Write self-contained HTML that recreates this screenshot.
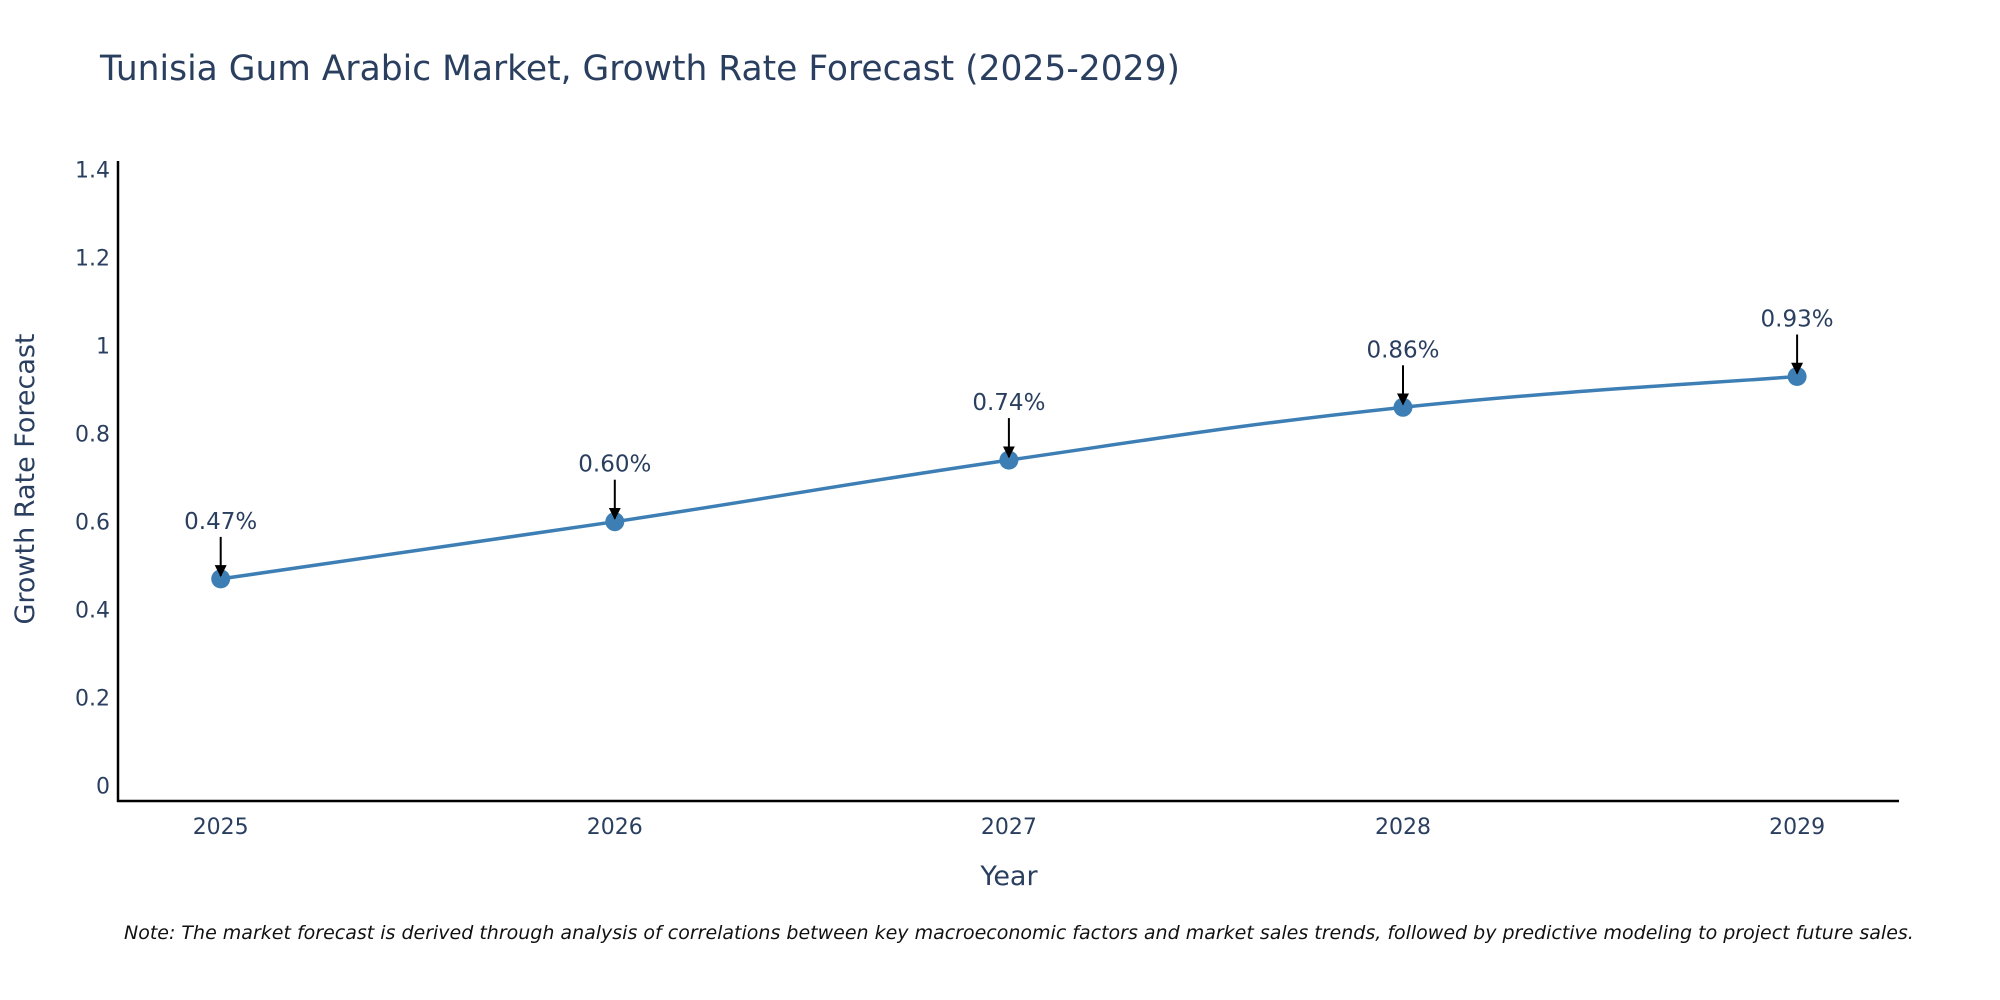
<!DOCTYPE html>
<html><head><meta charset="utf-8"><style>
html,body{margin:0;padding:0;background:#fff;}
svg{display:block;font-family:"DejaVu Sans","Liberation Sans",sans-serif;}
</style></head><body>
<svg id="chart" width="2000" height="1000" viewBox="0 0 2000 1000">
<text x="100" y="80" font-size="35" fill="#2a3f5f" textLength="1080" lengthAdjust="spacingAndGlyphs">Tunisia Gum Arabic Market, Growth Rate Forecast (2025-2029)</text>
<g id="yticks"></g>
<g id="xticks"></g>
<line x1="118" y1="161" x2="118" y2="802" stroke="#000" stroke-width="2.5"/>
<line x1="117" y1="801" x2="1899" y2="801" stroke="#000" stroke-width="2.5"/>
<g id="series"></g>
<g id="annots"></g>
<text x="1009" y="885" font-size="27" fill="#2a3f5f" text-anchor="middle">Year</text>
<text transform="translate(34,479) rotate(-90)" font-size="27" fill="#2a3f5f" text-anchor="middle">Growth Rate Forecast</text>
<text x="124" y="939" font-size="19" font-style="italic" fill="#111">Note: The market forecast is derived through analysis of correlations between key macroeconomic factors and market sales trends, followed by predictive modeling to project future sales.</text>
<defs><marker id="ah" viewBox="0 0 10 10" refX="9" refY="5" markerWidth="6" markerHeight="6" orient="auto"><path d="M0,0 L10,5 L0,10 z" fill="#000"/></marker></defs>
</svg>
<script>
const years = [2025, 2026, 2027, 2028, 2029];
const values = [0.47, 0.60, 0.74, 0.86, 0.93];
const labels = ["0.47%", "0.60%", "0.74%", "0.86%", "0.93%"];
const yTicks = [0, 0.2, 0.4, 0.6, 0.8, 1, 1.2, 1.4];
const tickText = ["0", "0.2", "0.4", "0.6", "0.8", "1", "1.2", "1.4"];
const NS = "http://www.w3.org/2000/svg";
function xS(y){return 220.7 + (y - 2025) * 394.1;}
function yS(v){return 785.7 - v * 440;}
function mk(tag, attrs, parent){const e=document.createElementNS(NS,tag);for(const k in attrs)e.setAttribute(k,attrs[k]);parent.appendChild(e);return e;}
const yt=document.getElementById('yticks');
yTicks.forEach((t,i)=>{
  const e=mk('text',{x:110,y:yS(t)+8,'font-size':22,fill:'#2a3f5f','text-anchor':'end'},yt);
  
  
  e.textContent=tickText[i];
});
const xt=document.getElementById('xticks');
years.forEach(y=>{
  const e=mk('text',{x:xS(y),y:834,'font-size':22,fill:'#2a3f5f','text-anchor':'middle'},xt);
  
  
  e.textContent=y;
});
const pts=years.map((y,i)=>[xS(y),yS(values[i])]);
let d='M'+pts[0][0]+','+pts[0][1];
for(let i=0;i<pts.length-1;i++){
  const p0=pts[Math.max(0,i-1)],p1=pts[i],p2=pts[i+1],p3=pts[Math.min(pts.length-1,i+2)];
  const t=0.2;
  const c1=[p1[0]+(p2[0]-p0[0])*t,p1[1]+(p2[1]-p0[1])*t];
  const c2=[p2[0]-(p3[0]-p1[0])*t,p2[1]-(p3[1]-p1[1])*t];
  d+=' C'+c1+' '+c2+' '+p2;
}
const s=document.getElementById('series');
const ln=mk('path',{d:d,fill:'none',stroke:'#3d7fb5','stroke-width':3.5},s);


const an=document.getElementById('annots');
pts.forEach((p,i)=>{
  const c=mk('circle',{cx:p[0],cy:p[1],r:9.5,fill:'#3d7fb5'},s);
  
  
  const a=mk('line',{x1:p[0],y1:p[1]-42,x2:p[0],y2:p[1]-3,stroke:'#000','stroke-width':2,'marker-end':'url(#ah)'},an);
  
  
  const tx=mk('text',{x:p[0],y:p[1]-50,'font-size':23,fill:'#2a3f5f','text-anchor':'middle'},an);
  
  
  tx.textContent=labels[i];
});
</script>
</body></html>
